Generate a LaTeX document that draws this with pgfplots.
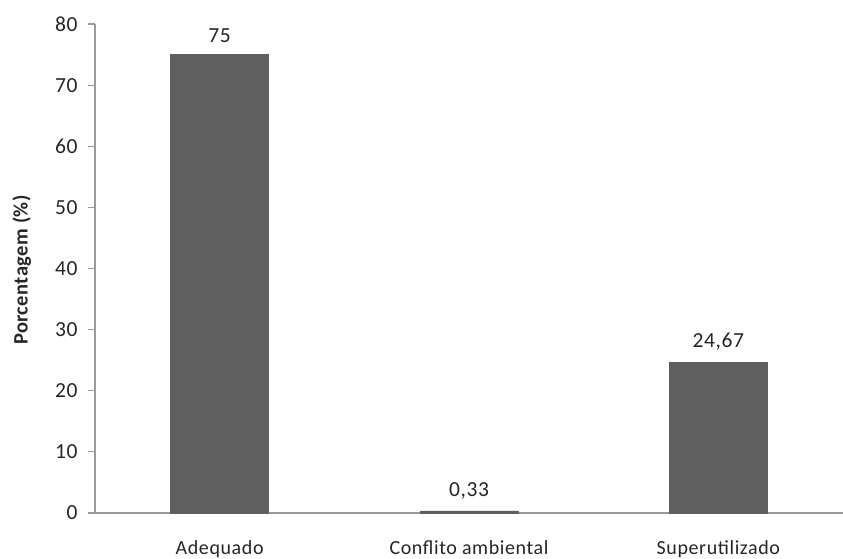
\documentclass[border=0pt]{standalone}
\usepackage{pgfplots}
\pgfplotsset{compat=1.18}
\usepackage{fontspec}
\setmainfont{Carlito}
\definecolor{barc}{HTML}{5F5F5F}
\definecolor{axc}{HTML}{9A9A9A}
\definecolor{txt}{HTML}{262626}
\newcommand{\tf}{\fontsize{20bp}{23bp}\selectfont\addfontfeature{LetterSpace=3}}
\newcommand{\nf}{\fontsize{21.5bp}{24bp}\selectfont\addfontfeature{LetterSpace=3}}
\begin{document}
\begin{tikzpicture}[x=1bp,y=1bp]
\begin{axis}[
  scale only axis,
  width=748bp, height=489bp,
  at={(0,0)}, anchor=south west,
  ymin=0, ymax=80, ytick={0,10,...,80},
  xmin=-0.5, xmax=2.5,
  xtick={0,1,2},
  xticklabels={Adequado,Conflito ambiental,Superutilizado},
  axis x line*=bottom, axis y line*=left,
  axis line style={axc, line width=1.2bp, -},
  major tick length=7bp,
  ytick style={axc, line width=1.2bp},
  xtick style={draw=none},
  tick align=outside,
  yticklabel style={font=\nf, text=txt, xshift=-7bp},
  xticklabel style={font=\tf, text=txt, yshift=-17bp},
  /pgf/number format/assume math mode=true,
  ylabel={\textbf{Porcentagem (\%)}},
  ylabel style={font=\fontsize{20.5bp}{23bp}\selectfont\addfontfeature{LetterSpace=2}, text=txt,
     at={(axis description cs:-0.098,0.497)}, anchor=center, rotate=0},
  ybar, bar width=98bp,
  point meta=explicit symbolic,
  nodes near coords,
  nodes near coords style={font=\nf, text=txt, yshift=8bp},
  clip=false,
]
\addplot[fill=barc, draw=barc] coordinates {(0,75)[75] (1,0.33)[{0,33}] (2,24.67)[{24,67}]};
\end{axis}
\pgfresetboundingbox
\path[use as bounding box] (-95bp,-46bp) rectangle (748bp,513bp);
\end{tikzpicture}
\end{document}
